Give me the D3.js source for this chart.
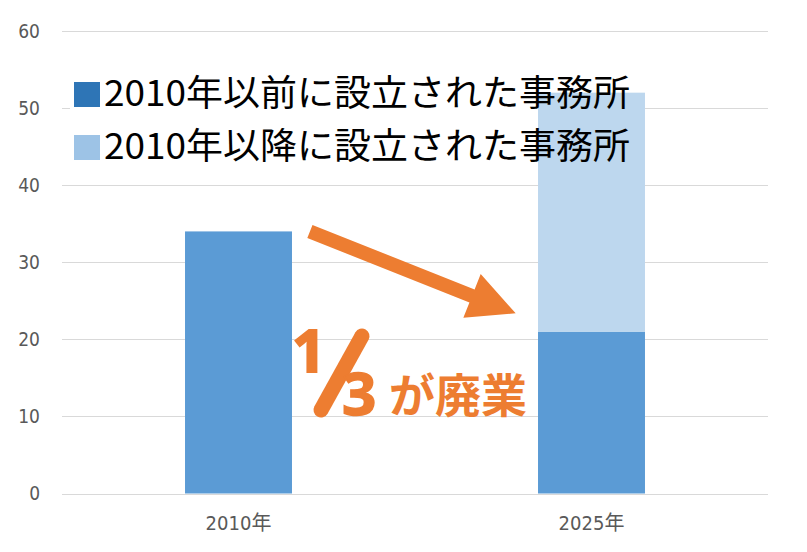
<!DOCTYPE html>
<html><head><meta charset="utf-8">
<script src="https://cdn.jsdelivr.net/npm/d3@7"></script>
<style>
html,body{margin:0;padding:0;background:#fff;}
svg{display:block;}
</style></head>
<body>
<svg id="chart" width="807" height="552"></svg>
<script>
const categories = ["2010年", "2025年"];
const seriesNames = ["2010年以前に設立された事務所", "2010年以降に設立された事務所"];
const before2010 = [34, 21];
const after2010 = [0, 31];
const yTicks = [0, 10, 20, 30, 40, 50, 60];
const barColors = ["#5B9BD5", "#BDD7EE"];
const legendColors = ["#2E75B6", "#9DC3E6"];
const annotation = {one: "1", three: "3", rest: "が廃業"};

const svg = d3.select("#chart");
const x = d3.scaleBand().domain(categories).range([62, 768]).paddingInner(0.697).paddingOuter(0.3485);
const y = d3.scaleLinear().domain([0, 60]).range([493.5, 31]);

const tickFont = "'Liberation Sans Narrow','DejaVu Sans Condensed','Noto Sans CJK JP',sans-serif";

// gridlines
svg.append("g").selectAll("line").data(yTicks).join("line")
  .attr("x1", 62).attr("x2", 768)
  .attr("y1", d => Math.round(y(d)) + 0.5).attr("y2", d => Math.round(y(d)) + 0.5)
  .attr("stroke", "#D9D9D9").attr("stroke-width", 1.2);

// y tick labels
svg.append("g").selectAll("text").data(yTicks).join("text")
  .attr("x", 40).attr("y", d => y(d)).attr("dy", "0.36em")
  .attr("text-anchor", "end").attr("fill", "#595959")
  .style("font-family", tickFont).style("font-size", "19px")
  .text(d => d);

// x labels
svg.append("g").selectAll("text").data(categories).join("text")
  .attr("x", d => x(d) + x.bandwidth() / 2).attr("y", 530)
  .attr("text-anchor", "middle").attr("fill", "#595959")
  .style("font-family", tickFont).style("font-size", "20px")
  .text(d => d);

// legend background (under bars)
svg.append("rect").attr("x", 70).attr("y", 74).attr("width", 560).attr("height", 92).attr("fill", "#fff");

// stacked bars
const rows = categories.map((c, i) => ({cat: c, a: before2010[i], b: after2010[i]}));
const stack = d3.stack().keys(["a", "b"])(rows);
svg.append("g").selectAll("g").data(stack).join("g")
  .attr("fill", (d, i) => barColors[i])
  .selectAll("rect").data(d => d).join("rect")
  .attr("x", d => x(d.data.cat)).attr("width", x.bandwidth())
  .attr("y", d => y(d[1])).attr("height", d => y(d[0]) - y(d[1]));

// legend entries
const lg = svg.append("g");
seriesNames.forEach((name, i) => {
  const cy = 94 + i * 53;
  lg.append("rect").attr("x", 74).attr("y", cy - 12).attr("width", 26).attr("height", 25).attr("fill", legendColors[i]);
  lg.append("text").attr("x", 104).attr("y", cy + 12)
    .attr("fill", "#000")
    .style("font-family", "'Noto Sans CJK JP','Noto Sans',sans-serif").style("font-size", "36px")
    .attr("textLength", 526).attr("lengthAdjust", "spacingAndGlyphs")
    .text(name);
});

// arrow annotation
const orange = "#ED7D31";
const ax0 = 309.9, ay0 = 231.5, ax1 = 515.7, ay1 = 313.3;
const L = Math.hypot(ax1 - ax0, ay1 - ay0);
const ang = Math.atan2(ay1 - ay0, ax1 - ax0) * 180 / Math.PI;
const hl = 47, sw = 7, hw = 23.5;
svg.append("path")
  .attr("transform", `translate(${ax0},${ay0}) rotate(${ang})`)
  .attr("d", `M0,${-sw} L${L - hl},${-sw} L${L - hl},${-hw} L${L},0 L${L - hl},${hw} L${L - hl},${sw} L0,${sw} Z`)
  .attr("fill", orange);

// 1/3が廃業
const an = svg.append("g").attr("fill", orange);
an.append("text").attr("x", 292).attr("y", 372)
  .style("font-family", "'Noto Sans','Open Sans',sans-serif").style("font-weight", 700).style("font-size", "59px")
  .attr("stroke", orange).attr("stroke-width", 2)
  .text(annotation.one);
an.append("line").attr("x1", 321).attr("y1", 410).attr("x2", 362).attr("y2", 336)
  .attr("stroke", orange).attr("stroke-width", 15).attr("stroke-linecap", "round");
an.append("text").attr("x", 342).attr("y", 415)
  .style("font-family", "'Noto Sans','Open Sans',sans-serif").style("font-weight", 700).style("font-size", "60px")
  .attr("stroke", orange).attr("stroke-width", 1.5)
  .text(annotation.three);
an.append("text").attr("x", 389).attr("y", 412)
  .style("font-family", "'Noto Sans CJK JP',sans-serif").style("font-weight", 700).style("font-size", "46px")
  .text(annotation.rest);
</script>
</body></html>
